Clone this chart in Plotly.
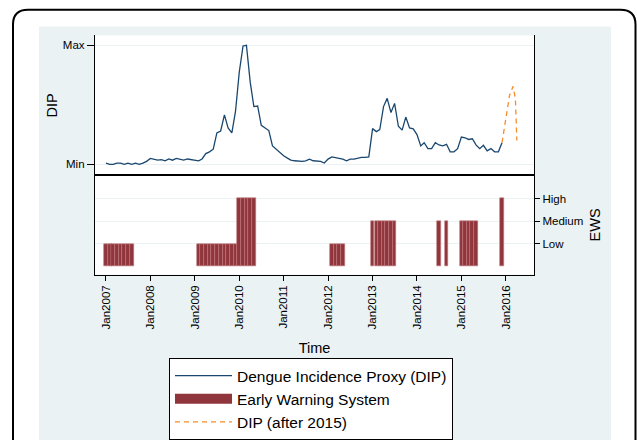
import plotly.graph_objects as go
import pandas as pd

# ---------------- data ----------------
dip_start = "2007-01-01"
dip_values = [
    # 2007
    0.010, 0.000, 0.000, 0.010, 0.010, 0.000, 0.010, 0.000, 0.010, 0.000, 0.010, 0.025,
    # 2008
    0.050, 0.045, 0.035, 0.040, 0.030, 0.045, 0.035, 0.050, 0.040, 0.035, 0.045, 0.040,
    # 2009
    0.030, 0.030, 0.045, 0.090, 0.105, 0.127, 0.264, 0.280, 0.416, 0.306, 0.264, 0.444,
    # 2010
    0.774, 0.994, 1.000, 0.690, 0.485, 0.490, 0.328, 0.306, 0.284, 0.155, 0.127, 0.099,
    # 2011
    0.072, 0.052, 0.036, 0.030, 0.025, 0.025, 0.030, 0.044, 0.030, 0.025, 0.025, 0.011,
    # 2012
    0.044, 0.063, 0.058, 0.050, 0.044, 0.030, 0.044, 0.044, 0.052, 0.058, 0.058, 0.063,
    # 2013
    0.300, 0.275, 0.292, 0.485, 0.554, 0.435, 0.512, 0.320, 0.287, 0.397, 0.306, 0.298,
    # 2014
    0.250, 0.155, 0.182, 0.132, 0.132, 0.182, 0.163, 0.155, 0.168, 0.105, 0.105, 0.132,
    # 2015
    0.229, 0.223, 0.209, 0.215, 0.163, 0.132, 0.160, 0.113, 0.132, 0.105, 0.105, 0.182,
]
dip_dates = pd.date_range(dip_start, periods=len(dip_values), freq="MS")

after_dates = ["2015-12-01", "2016-01-01", "2016-02-01", "2016-03-01", "2016-03-20", "2016-04-01"]
after_values = [0.182, 0.400, 0.580, 0.655, 0.550, 0.200]

ews_dates = [
    "2007-01-01", "2007-02-01", "2007-03-01", "2007-04-01", "2007-05-01", "2007-06-01", "2007-07-01", "2007-08-01",
    "2009-02-01", "2009-03-01", "2009-04-01", "2009-05-01", "2009-06-01", "2009-07-01", "2009-08-01", "2009-09-01",
    "2009-10-01", "2009-11-01", "2009-12-01",
    "2010-01-01", "2010-02-01", "2010-03-01", "2010-04-01", "2010-05-01",
    "2012-02-01", "2012-03-01", "2012-04-01", "2012-05-01",
    "2013-01-01", "2013-02-01", "2013-03-01", "2013-04-01", "2013-05-01", "2013-06-01", "2013-07-01",
    "2014-07-01", "2014-09-01",
    "2015-01-01", "2015-02-01", "2015-03-01", "2015-04-01", "2015-05-01",
    "2015-12-01",
]
ews_levels = (
    [1] * 8 +
    [1] * 11 +
    [3] * 5 +
    [1] * 4 +
    [2] * 7 +
    [2, 2] +
    [2] * 5 +
    [3]
)

dip_ticks = [0, 1]
dip_ticktext = ["Min", "Max"]
ews_ticks = [1, 2, 3]
ews_ticktext = ["Low", "Medium", "High"]
year_ticks = ["%d-01-01" % y for y in range(2007, 2017)]
year_ticktext = ["Jan%d" % y for y in range(2007, 2017)]

# ---------------- style ----------------
W, H = 637, 440
BG = "rgb(234,242,243)"
NAVY = "#1A476F"
MAROON = "rgb(144,53,59)"
ORANGE = "rgb(247,140,40)"
FONT = "Arial, Liberation Sans, sans-serif"


def fx(x):
    return x / W


def fy(y):
    return 1 - y / H


x_dom = [fx(95), fx(534)]
x_range = ["2006-10-03", "2016-08-20"]
month_ms = 30.44 * 24 * 3600 * 1000

fig = go.Figure()
fig.add_trace(go.Scatter(
    x=dip_dates, y=dip_values, mode="lines", name="Dengue Incidence Proxy (DIP)",
    line=dict(color=NAVY, width=1.3), xaxis="x", yaxis="y"))
fig.add_trace(go.Bar(
    x=ews_dates, y=ews_levels, base=0, name="Early Warning System", width=month_ms,
    marker=dict(color=MAROON, line=dict(color="rgb(190,115,120)", width=0.6)),
    legendgroup="ews", showlegend=False,
    xaxis="x2", yaxis="y2"))
# legend swatch for the EWS bars (wide filled block, as in the original legend)
fig.add_trace(go.Scatter(
    x=[None], y=[None], mode="lines", name="Early Warning System", legendgroup="ews",
    line=dict(color=MAROON, width=14), xaxis="x2", yaxis="y2", hoverinfo="skip"))
fig.add_trace(go.Scatter(
    x=after_dates, y=after_values, mode="lines", name="DIP (after 2015)",
    line=dict(color=ORANGE, width=1.3, dash="5px,4px"), xaxis="x", yaxis="y"))

axis_common = dict(linecolor="black", linewidth=1.3, zeroline=False,
                   tickfont=dict(family=FONT, size=11.5, color="black"),
                   tickcolor="black", tickwidth=1.2)

fig.update_layout(
    width=W, height=H,
    margin=dict(l=0, r=0, t=0, b=0),
    paper_bgcolor=BG, plot_bgcolor="white",
    font=dict(family=FONT, color="black"),
    bargap=0,
    showlegend=True,
    xaxis=dict(domain=x_dom, anchor="y", type="date", range=x_range,
               showline=True, showticklabels=False, ticks="", showgrid=False,
               linecolor="black", linewidth=1.3, zeroline=False),
    yaxis=dict(domain=[fy(178), fy(36)], anchor="x", range=[-0.0909, 1.0826],
               tickvals=dip_ticks, ticktext=dip_ticktext, ticks="outside", ticklen=7,
               showline=True, mirror=True, showgrid=True, gridcolor=BG, gridwidth=1.2,
               title=dict(text="DIP", font=dict(family=FONT, size=14.5), standoff=1),
               **axis_common),
    xaxis2=dict(domain=x_dom, anchor="y2", type="date", range=x_range,
                tickvals=year_ticks, ticktext=year_ticktext, tickangle=-90,
                ticks="outside", ticklen=5, showline=True, mirror=True, showgrid=False,
                title=dict(text="Time", font=dict(family=FONT, size=14.5), standoff=14),
                **axis_common),
    yaxis2=dict(domain=[fy(279), fy(178)], anchor="x2", side="right", range=[-0.36, 4.03],
                tickvals=ews_ticks, ticktext=ews_ticktext, ticks="outside", ticklen=5,
                showline=True, mirror=True, showgrid=True, gridcolor=BG, gridwidth=1.2,
                title=dict(text="EWS", font=dict(family=FONT, size=14.5), standoff=7),
                **axis_common),
    legend=dict(x=fx(169), y=fy(364), xanchor="left", yanchor="top",
                bgcolor="white", bordercolor="black", borderwidth=1,
                font=dict(family=FONT, size=15.5, color="black"), tracegroupgap=0,
                traceorder="normal", itemwidth=57),
)

# white outer margin + rounded border
shapes = [
    dict(type="rect", xref="paper", yref="paper", x0=0, x1=fx(39), y0=-0.1, y1=1.1,
         fillcolor="white", line=dict(width=0), layer="below"),
    dict(type="rect", xref="paper", yref="paper", x0=fx(611), x1=1.01, y0=-0.1, y1=1.1,
         fillcolor="white", line=dict(width=0), layer="below"),
    dict(type="rect", xref="paper", yref="paper", x0=0, x1=1.01, y0=fy(27), y1=1.1,
         fillcolor="white", line=dict(width=0), layer="below"),
]
r = 15
L, T, R, B = 13, 10, 635.5, 470
path = (f"M {fx(L)} {fy(B)} L {fx(L)} {fy(T + r)} Q {fx(L)} {fy(T)} {fx(L + r)} {fy(T)} "
        f"L {fx(R - r)} {fy(T)} Q {fx(R)} {fy(T)} {fx(R)} {fy(T + r)} L {fx(R)} {fy(B)}")
shapes.append(dict(type="path", xref="paper", yref="paper", path=path,
                   line=dict(color="black", width=2), layer="above"))
fig.update_layout(shapes=shapes)

fig.write_html("out.html", config={"displayModeBar": False},
               post_script="document.body.style.margin='0';document.body.style.overflow='hidden';")
